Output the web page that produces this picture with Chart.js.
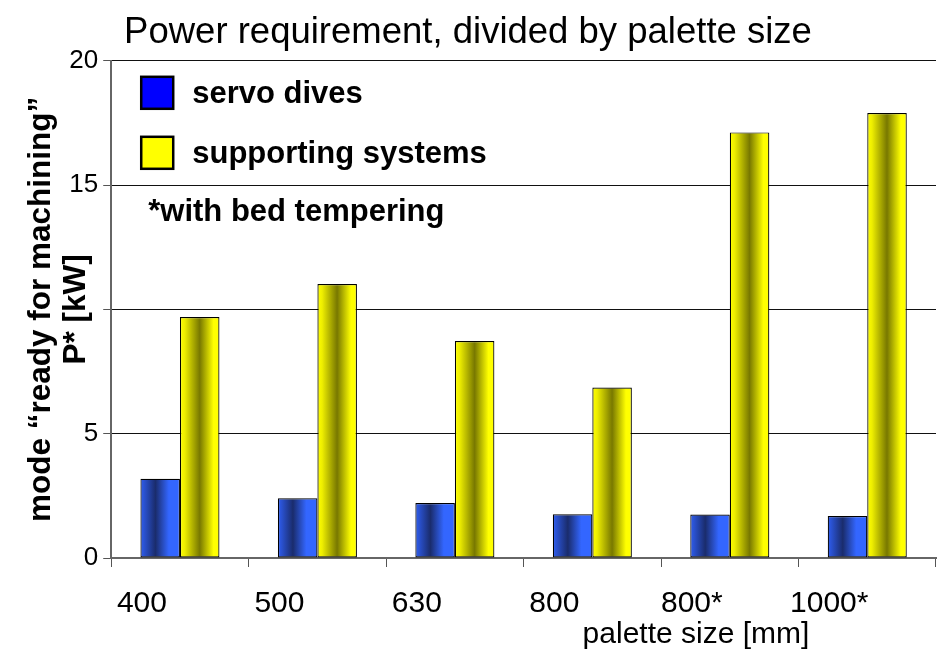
<!DOCTYPE html>
<html><head><meta charset="utf-8">
<script src="https://cdn.jsdelivr.net/npm/chart.js@4"></script>
<style>html,body{margin:0;padding:0;background:#fff}#wrap{width:937px;height:655px;position:relative}</style>
</head><body><div id="wrap"><canvas id="c"></canvas></div>
<script>
// ---- data ----
const categories = ['400', '500', '630', '800', '800*', '1000*'];
const servoDrives = [3.19, 2.40, 2.21, 1.76, 1.75, 1.69];
const supportingSystems = [9.69, 11.02, 8.73, 6.86, 17.12, 17.9];
const seriesNames = ['servo dives', 'supporting systems'];
const yTickLabels = ['0', '5', '', '15', '20']; // "10" is covered by the axis title in the reference
const chartTitle = 'Power requirement, divided by palette size';
const yAxisTitle = ['mode “ready for machining”', 'P* [kW]'];
const xAxisTitle = 'palette size [mm]';
const footnote = '*with bed tempering';

const FONT = "'Liberation Sans', Arial, Helvetica, sans-serif";
const legendColors = ['#0000ff', '#ffff00'];
const gradientStops = [
  [[0, '#2f5ef2'], [0.38, '#1a2c6c'], [0.72, '#3366ff'], [1, '#3366ff']],
  [[0, '#ffff00'], [0.12, '#eeee00'], [0.5, '#787800'], [0.85, '#ffff00'], [1, '#ffff00']]
];

const barShading = {
  id: 'barShading',
  beforeDatasetsDraw(chart) {
    const ctx = chart.ctx;
    chart.data.datasets.forEach((ds, di) => {
      const meta = chart.getDatasetMeta(di);
      meta.data.forEach(el => {
        const x0 = el.x - el.width / 2, x1 = el.x + el.width / 2;
        if (!isFinite(x0) || !isFinite(x1)) return;
        const g = ctx.createLinearGradient(x0, 0, x1, 0);
        gradientStops[di].forEach(s => g.addColorStop(s[0], s[1]));
        el.options = Object.assign({}, el.options, { backgroundColor: g, borderColor: '#000' });
      });
    });
  }
};

const overlay = {
  id: 'overlay',
  afterDraw(chart) {
    const ctx = chart.ctx, a = chart.chartArea;
    ctx.save();
    // legend inside plot area
    const boxX = a.left + 30, boxS = 32;
    const rowsY = [a.top + 32, a.top + 92];
    ctx.font = 'bold 31px ' + FONT;
    ctx.textBaseline = 'middle';
    ctx.textAlign = 'left';
    chart.data.datasets.forEach((ds, i) => {
      const cy = rowsY[i];
      ctx.fillStyle = legendColors[i];
      ctx.fillRect(boxX, cy - boxS / 2, boxS, boxS);
      ctx.lineWidth = 2.5;
      ctx.strokeStyle = '#000';
      ctx.strokeRect(boxX, cy - boxS / 2, boxS, boxS);
      ctx.fillStyle = '#000';
      ctx.fillText(ds.label, boxX + 51, cy + 2);
    });
    ctx.fillText(footnote, a.left + 37, a.top + 152);
    // x axis title
    ctx.font = '30px ' + FONT;
    ctx.textAlign = 'center';
    ctx.fillText(xAxisTitle, a.left + (a.right - a.left) * 0.709, chart.height - 20);
    ctx.restore();
  }
};

new Chart(document.getElementById('c'), {
  type: 'bar',
  data: {
    labels: categories,
    datasets: [
      { label: seriesNames[0], data: servoDrives, backgroundColor: legendColors[0], borderColor: '#000' },
      { label: seriesNames[1], data: supportingSystems, backgroundColor: legendColors[1], borderColor: '#000' }
    ]
  },
  options: {
    responsive: true,
    maintainAspectRatio: false,
    animation: false,
    devicePixelRatio: 1,
    datasets: {
      bar: {
        barPercentage: 1,
        categoryPercentage: 0.575,
        borderWidth: 1.2,
        borderSkipped: false
      }
    },
    layout: { padding: { left: 0, right: 1, top: 0, bottom: 14 } },
    plugins: {
      legend: { display: false },
      tooltip: { enabled: false },
      colors: { enabled: false },
      title: {
        display: true,
        text: chartTitle,
        color: '#000',
        font: { family: FONT, size: 36.5, weight: 'normal', lineHeight: 1.2 },
        padding: { top: 11, bottom: 6 }
      }
    },
    scales: {
      x: {
        grid: { drawOnChartArea: false, drawTicks: true, tickLength: 9, color: '#555', offset: true },
        border: { color: '#666', width: 2 },
        ticks: {
          color: '#000', font: { family: FONT, size: 30 }, padding: 19,
          labelOffset: -38, maxRotation: 0, autoSkip: false
        }
      },
      y: {
        min: 0, max: 20,
        grid: { color: '#111', lineWidth: 1, tickLength: 8, tickColor: '#555' },
        border: { color: '#666', width: 2 },
        ticks: {
          stepSize: 5, color: '#000', font: { family: FONT, size: 26 }, padding: 5,
          callback: (v, i) => yTickLabels[i]
        },
        title: {
          display: true,
          text: yAxisTitle,
          color: '#000',
          font: { family: FONT, size: 31.5, weight: 'bold', lineHeight: 1.1 },
          padding: { top: 24, bottom: -29 }
        }
      }
    }
  },
  plugins: [barShading, overlay]
});
</script></body></html>
